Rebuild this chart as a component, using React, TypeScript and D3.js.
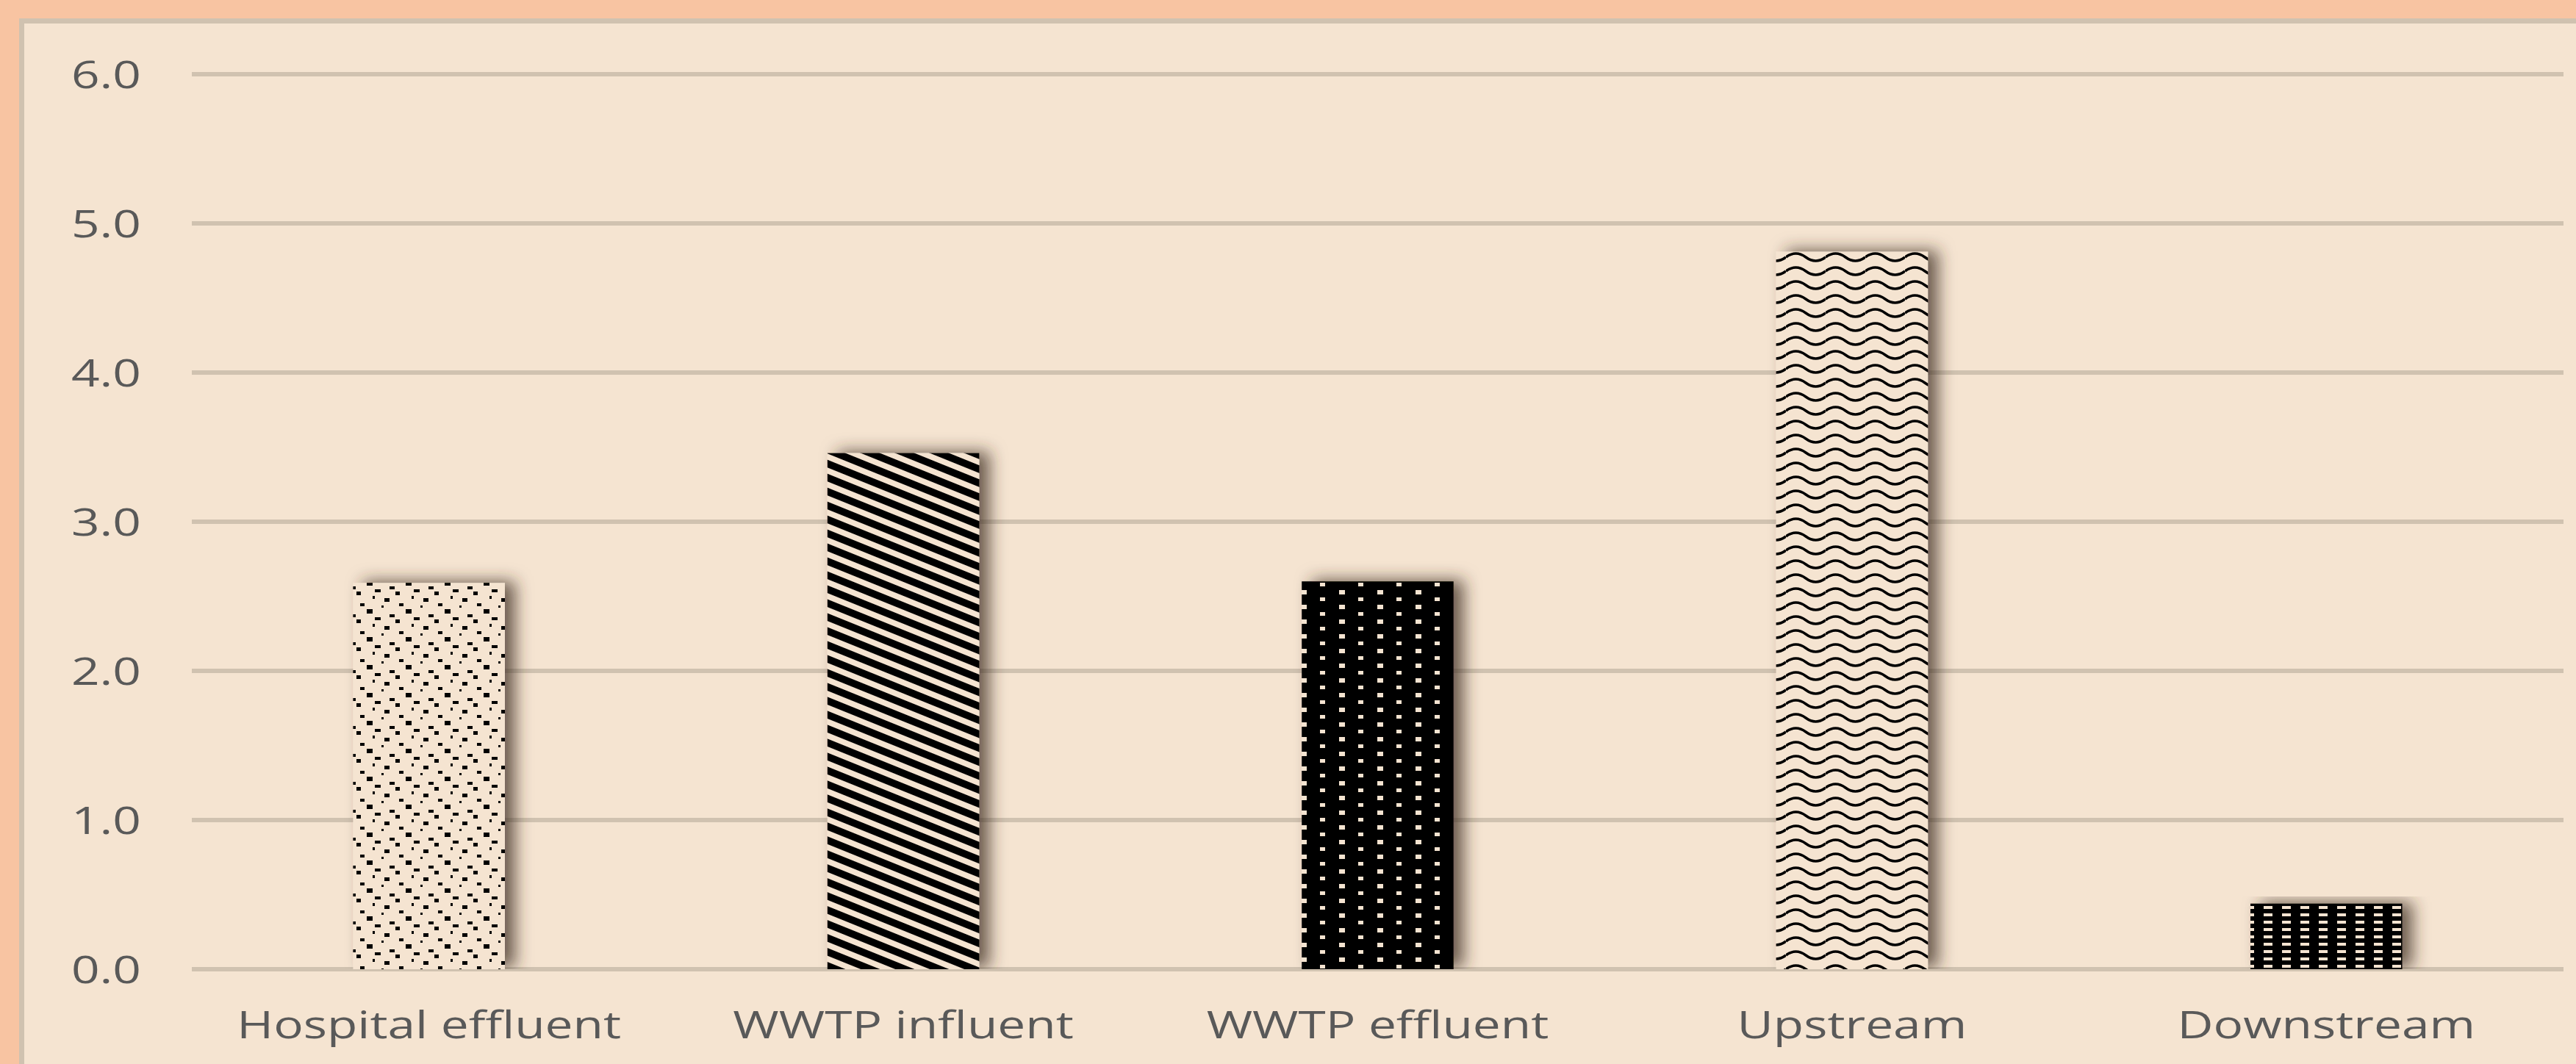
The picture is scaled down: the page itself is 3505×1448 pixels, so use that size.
import * as d3 from 'd3';

const categories = ['Hospital effluent', 'WWTP influent', 'WWTP effluent', 'Upstream', 'Downstream'];
const values = [2.59, 3.46, 2.6, 4.81, 0.44];
const yTicks = [0, 1, 2, 3, 4, 5, 6];

const width = 3505;
const height = 1448;
const marginLeft = 261;
const marginRight = 17;
const yTop = 101;
const yBottom = 1319;

const paper = '#F5E4D1';
const grid = '#D0C2B0';
const ink = '#000';
const textColor = '#595959';
const stretch = 'scale(1.3,1)';

// confetti dots for the first bar, [x, y, w, h] inside a 53x38 tile
const confettiDots = [
  [0, 0, 7, 4], [33, 4, 8, 4], [8, 7, 6, 5], [30, 13, 3, 4],
  [46, 16, 8, 5], [13, 23, 6, 4], [22, 31, 8, 6], [42, 26, 3, 3],
];

function Patterns() {
  return (
    <defs>
      <pattern id="confetti" patternUnits="userSpaceOnUse" width="53" height="38">
        <rect width="53" height="38" fill={paper} />
        {confettiDots.map((d, i) => (
          <rect key={i} x={d[0]} y={d[1]} width={d[2]} height={d[3]} fill={ink} />
        ))}
      </pattern>
      <pattern id="diagonal" patternUnits="userSpaceOnUse" width="40" height="17.6"
        patternTransform="rotate(22)">
        <rect width="40" height="17.6" fill={paper} />
        <rect y="0" width="40" height="9.8" fill={ink} />
      </pattern>
      <pattern id="dots" patternUnits="userSpaceOnUse" width="52" height="20">
        <rect width="52" height="20" fill={ink} />
        <rect x="2" y="3" width="8" height="6" fill={paper} />
        <rect x="28" y="13" width="7" height="5" fill={paper} />
      </pattern>
      <pattern id="wave" patternUnits="userSpaceOnUse" width="54" height="19">
        <rect width="54" height="19" fill={paper} />
        <path d="M0,8 Q13.5,-2 27,8 T54,8" fill="none" stroke={ink} strokeWidth="3.5" />
      </pattern>
      <pattern id="weave" patternUnits="userSpaceOnUse" width="25" height="10">
        <rect width="25" height="10" fill={ink} />
        <rect x="5" y="3" width="12" height="4" fill={paper} />
      </pattern>
      <filter id="shadow" x="-20%" y="-10%" width="160%" height="130%">
        <feDropShadow dx="14" dy="-2" stdDeviation="11" floodColor="#3e2f20" floodOpacity="0.75" />
      </filter>
      <clipPath id="plotClip">
        <rect x="0" y="0" width={width} height={yBottom} />
      </clipPath>
    </defs>
  );
}

export default function App() {
  const x = d3.scaleBand<string>()
    .domain(categories)
    .range([marginLeft, width - marginRight])
    .paddingInner(0.68)
    .paddingOuter(0.34);
  const y = d3.scaleLinear([0, 6], [yBottom, yTop]);
  const fmt = d3.format('.1f');
  const fills = ['confetti', 'diagonal', 'dots', 'wave', 'weave'];

  return (
    <svg width={width} height={height} style={{ position: 'absolute', left: 0, top: 0 }}
      fontFamily="'Open Sans', sans-serif">
      <Patterns />
      <rect width={width} height={height} fill="#F8C4A2" />
      <rect x="29.5" y="28.5" width={width} height={height} fill={paper} stroke={grid} strokeWidth="7" />

      <g>
        {yTicks.map(t => (
          <g key={t}>
            <line x1={marginLeft} x2={width - marginRight} y1={y(t)} y2={y(t)} stroke={grid} strokeWidth="6" />
            <text transform={`translate(192,${y(t)}) ${stretch}`} dy="0.36em" textAnchor="end"
              fontSize="52" fill={textColor}>{fmt(t)}</text>
          </g>
        ))}
      </g>

      <g clipPath="url(#plotClip)">
        {categories.map((c, i) => (
          <rect key={c} x={x(c)} y={y(values[i])} width={x.bandwidth()}
            height={y(0) - y(values[i])} fill={`url(#${fills[i]})`} filter="url(#shadow)" />
        ))}
      </g>

      <g>
        {categories.map(c => (
          <text key={c} transform={`translate(${x(c)! + x.bandwidth() / 2},1413) ${stretch}`}
            textAnchor="middle" fontSize="52" fill={textColor}>{c}</text>
        ))}
      </g>
    </svg>
  );
}
